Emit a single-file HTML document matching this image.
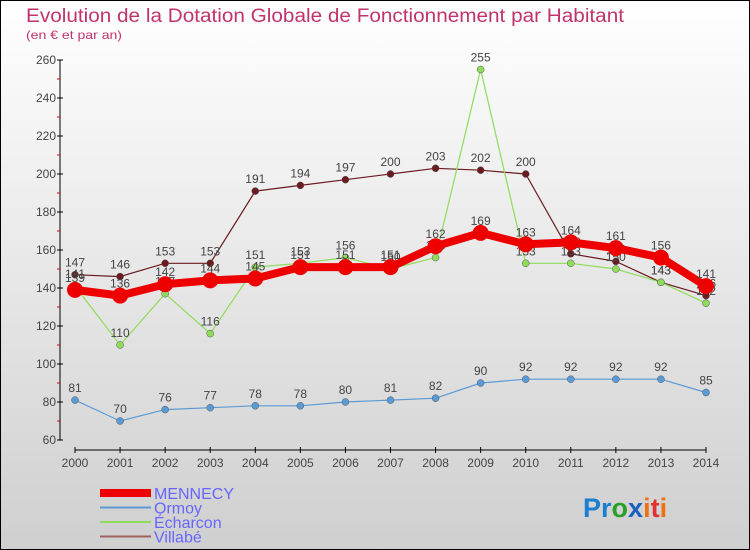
<!DOCTYPE html>
<html><head><meta charset="utf-8"><style>
body{margin:0;width:750px;height:550px;overflow:hidden;font-family:"Liberation Sans",sans-serif}
svg{display:block}
</style></head><body>
<svg id="c" width="750" height="550" xmlns="http://www.w3.org/2000/svg">
<defs><linearGradient id="bg" x1="0" y1="0" x2="0" y2="1"><stop offset="0" stop-color="#ffffff"/><stop offset="1" stop-color="#cfcfcf"/></linearGradient></defs>
<rect x="0.5" y="0.5" width="749" height="549" fill="url(#bg)" stroke="#000"/>
<text x="26" y="22" font-size="19" fill="#c0336e" textLength="598" lengthAdjust="spacingAndGlyphs">Evolution de la Dotation Globale de Fonctionnement par Habitant</text>
<text x="26" y="39" font-size="12" fill="#c0336e" textLength="96" lengthAdjust="spacingAndGlyphs">(en € et par an)</text>
<g id="axes"></g><g id="series"></g><g id="legend"></g>
<text x="583" y="517" font-size="27" font-weight="bold" fill="#1a7fd0">Pr<tspan fill="#2aa02a">o</tspan><tspan fill="#1a60c0">x</tspan><tspan fill="#f07010">i</tspan><tspan fill="#e03030">t</tspan><tspan fill="#f07010">i</tspan></text>
</svg>
<script>
const years=[2000,2001,2002,2003,2004,2005,2006,2007,2008,2009,2010,2011,2012,2013,2014];
const mennecy=[139,136,142,144,145,151,151,151,162,169,163,164,161,156,141];
const ormoy=[81,70,76,77,78,78,80,81,82,90,92,92,92,92,85];
const echarcon=[141,110,137,116,151,153,156,150,156,255,153,153,150,143,132];
const villabe=[147,146,153,153,191,194,197,200,203,202,200,158,154,143,136];
const yTicks=[60,80,100,120,140,160,180,200,220,240,260];
const NS="http://www.w3.org/2000/svg";
const x=i=>75+i*(631/14);
const y=v=>440-(v-60)*1.9;
function mk(t,a,p){const e=document.createElementNS(NS,t);for(const k in a)e.setAttribute(k,a[k]);p.appendChild(e);return e;}
const ax=document.getElementById('axes');
let l=mk('line',{x1:60,y1:y(260),x2:60,y2:y(60),stroke:'#000'},ax);


for(let v=70;v<260;v+=20){const t=mk('line',{x1:57,x2:60,y1:y(v),y2:y(v),stroke:'#d00'},ax);

}
yTicks.forEach(v=>{const t=mk('line',{x1:57,x2:63,y1:y(v),y2:y(v),stroke:'#000'},ax);


const tx=mk('text',{x:56,y:y(v)+4,'text-anchor':'end','font-size':12,fill:'#444'},ax);tx.textContent=v;

});
l=mk('line',{x1:x(0),x2:x(14),y1:450,y2:450,stroke:'#000'},ax);


years.forEach((yr,i)=>{const t=mk('line',{x1:x(i),x2:x(i),y1:447,y2:453,stroke:'#000'},ax);


const tx=mk('text',{x:x(i),y:467,'text-anchor':'middle','font-size':12,fill:'#444'},ax);tx.textContent=yr;

});
const sg=document.getElementById('series');
const series=[
 {n:'villabe',d:villabe,c:'#6b1a1f',w:1.2,r:3.5},
 {n:'echarcon',d:echarcon,c:'#8fdc5a',w:1.2,r:3.5},
 {n:'ormoy',d:ormoy,c:'#5b9bd5',w:1.2,r:3.5},
 {n:'mennecy',d:mennecy,c:'#ee0000',w:8,r:8}];
series.forEach(s=>{const g=mk('g',{},sg);


const p=mk('polyline',{points:s.d.map((v,i)=>x(i)+','+y(v)).join(' '),fill:'none',stroke:s.c,'stroke-width':s.w,'stroke-linejoin':'round'},g);


s.d.forEach((v,i)=>{const c=mk('circle',{cx:x(i),cy:y(v),r:s.r,fill:s.c,stroke:s.n==='mennecy'?'none':'#555','stroke-width':0.5},g);


const t=mk('text',{x:x(i),y:y(v)-8,'text-anchor':'middle','font-size':12,fill:'#444'},g);t.textContent=v;

});});
const lg=document.getElementById('legend');
const leg=[['MENNECY','#ee0000',8],['Ormoy','#5b9bd5',2],['Écharcon','#8fdc5a',2],['Villabé','#a06060',2]];
leg.forEach((e,i)=>{const yy=493+i*14.5;const g=mk('g',{},lg);


mk('line',{x1:100,x2:151,y1:yy,y2:yy,stroke:e[1],'stroke-width':e[2]},g);
const t=mk('text',{x:154,y:yy+6,'font-size':16,fill:'#6666ff'},g);t.textContent=e[0];});
</script>
</body></html>
